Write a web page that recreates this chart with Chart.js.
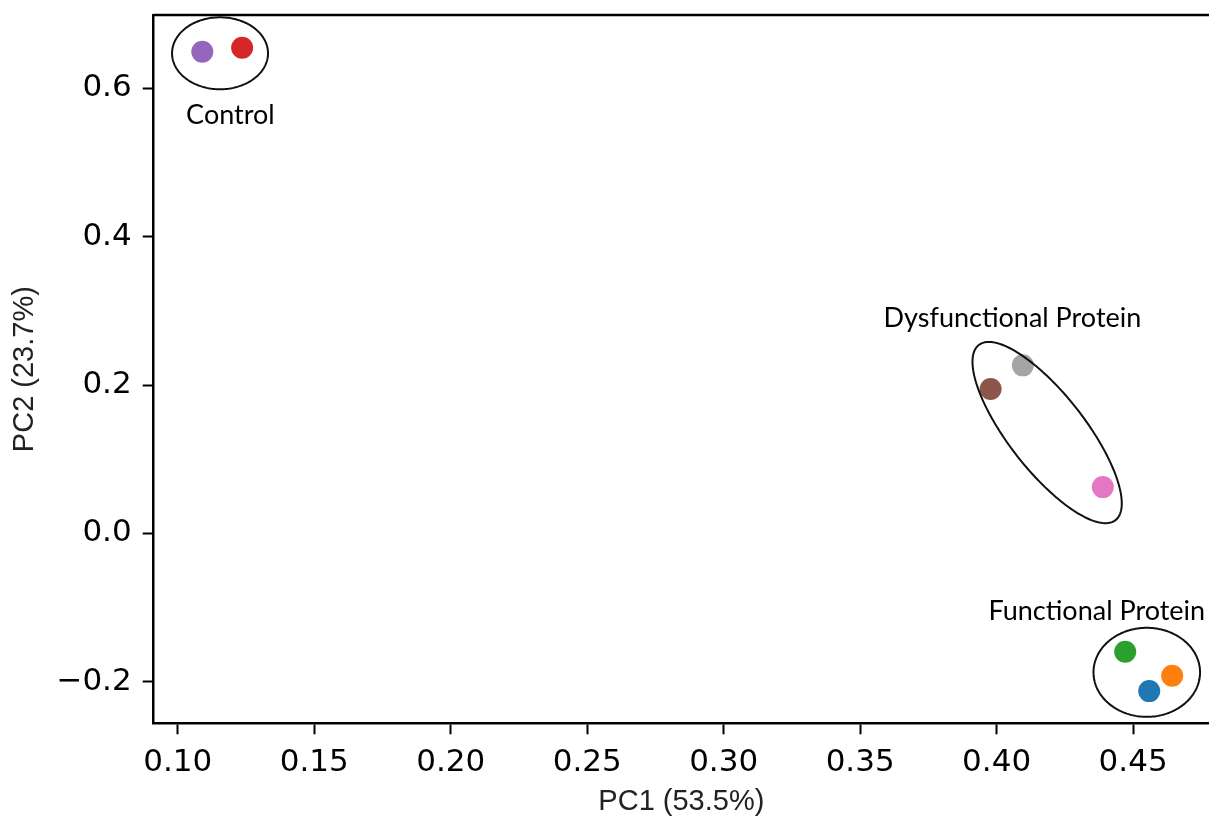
<!DOCTYPE html>
<html>
<head>
<meta charset="utf-8">
<script src="https://cdn.jsdelivr.net/npm/chart.js@4.4.0/dist/chart.umd.min.js"></script>
<style>
  html, body { margin: 0; padding: 0; background: #fff; }
  #wrap { width: 1209px; height: 816px; }
</style>
</head>
<body>
<div id="wrap"><canvas id="pcaChart"></canvas></div>
<script>
// samples (tab10 colours, one per sample)
const sampleColors = ['#1f77b4', '#ff7f0e', '#2ca02c', '#d62728', '#9467bd', '#8c564b', '#e377c2', '#a5a5a5'];
const pc1Values = [0.4559, 0.4643, 0.4471, 0.1236, 0.1090, 0.3978, 0.4389, 0.4096];
const pc2Values = [-0.2126, -0.1920, -0.1596, 0.6547, 0.6493, 0.1946, 0.0624, 0.2265];

const xTickValues = [0.10, 0.15, 0.20, 0.25, 0.30, 0.35, 0.40, 0.45];
const yTickValues = [-0.2, 0.0, 0.2, 0.4, 0.6];

const groupNames = ['Control', 'Dysfunctional Protein', 'Functional Protein'];
const groupLabelAt = [[0.1193, 0.564], [0.4058, 0.2903], [0.4367, -0.1048]];
// ellipse = centre + two conjugate half-axes, all in data units
const groupOutlines = [
  { cx: 0.1155, cy: 0.6472, ux: 0.01758, uy: 0, vx: 0, vy: 0.0485 },
  { cx: 0.4185, cy: 0.1359, ux: 0.02505, uy: -0.118, vx: -0.01097, vy: -0.0316 },
  { cx: 0.4550, cy: -0.1873, ux: 0.01952, uy: 0, vx: 0, vy: 0.060 }
];

const points = pc1Values.map((x, i) => ({ x: x, y: pc2Values[i] }));

const tickFont = { family: 'DejaVu Sans', size: 31 };

const groupMarks = {
  id: 'groupMarks',
  afterDatasetsDraw(chart) {
    const { ctx, chartArea, scales: { x, y } } = chart;
    ctx.save();
    // top spine (right one is cut off in the original)
    ctx.strokeStyle = '#000';
    ctx.lineWidth = 2.5;
    ctx.beginPath();
    ctx.moveTo(chartArea.left, chartArea.top);
    ctx.lineTo(chartArea.right, chartArea.top);
    ctx.stroke();

    ctx.lineWidth = 2;
    ctx.strokeStyle = '#111';
    groupOutlines.forEach(e => {
      ctx.beginPath();
      for (let k = 0; k <= 180; k++) {
        const t = k / 180 * Math.PI * 2;
        const px = x.getPixelForValue(e.cx + e.ux * Math.cos(t) + e.vx * Math.sin(t));
        const py = y.getPixelForValue(e.cy + e.uy * Math.cos(t) + e.vy * Math.sin(t));
        if (k === 0) ctx.moveTo(px, py); else ctx.lineTo(px, py);
      }
      ctx.closePath();
      ctx.stroke();
    });

    ctx.fillStyle = '#000';
    ctx.font = '27px Lato';
    ctx.textAlign = 'center';
    ctx.textBaseline = 'middle';
    groupNames.forEach((name, i) => {
      ctx.fillText(name, x.getPixelForValue(groupLabelAt[i][0]), y.getPixelForValue(groupLabelAt[i][1]));
    });
    ctx.restore();
  }
};

const ctx = document.getElementById('pcaChart').getContext('2d');
const pcaChart = new Chart(ctx, {
  type: 'scatter',
  data: {
    datasets: [{
      data: points,
      backgroundColor: sampleColors,
      pointBackgroundColor: sampleColors,
      pointRadius: 11,
      pointHoverRadius: 11,
      pointBorderWidth: 0,
      clip: false
    }]
  },
  options: {
    responsive: true,
    maintainAspectRatio: false,
    animation: false,
    layout: { autoPadding: false, padding: { top: 15, right: 0, left: 0, bottom: 0 } },
    plugins: { legend: { display: false }, tooltip: { enabled: false } },
    scales: {
      x: {
        type: 'linear',
        min: 0.0912,
        max: 0.4778,
        afterBuildTicks: s => { s.ticks = xTickValues.map(v => ({ value: v })); },
        afterFit: s => { s.height = 92.7; s.paddingLeft = 0; s.paddingRight = 0; },
        ticks: {
          color: '#000',
          font: tickFont,
          padding: 10,
          maxRotation: 0,
          callback: v => v.toFixed(2)
        },
        grid: { drawOnChartArea: false, drawTicks: true, tickLength: 11, tickColor: '#000', tickWidth: 2 },
        border: { display: true, color: '#000', width: 2.5 },
        title: {
          display: true, text: 'PC1 (53.5%)', color: '#222',
          font: { family: 'Liberation Sans', size: 29, lineHeight: 0.95 },
          padding: { top: 0, bottom: 0 }
        }
      },
      y: {
        type: 'linear',
        min: -0.256,
        max: 0.6988,
        afterBuildTicks: s => { s.ticks = yTickValues.map(v => ({ value: v })); },
        afterFit: s => { s.width = 153.7; s.paddingTop = 0; s.paddingBottom = 0; },
        ticks: {
          color: '#000',
          font: tickFont,
          padding: 11,
          callback: v => (v < 0 ? '\u2212' + Math.abs(v).toFixed(1) : v.toFixed(1))
        },
        grid: { drawOnChartArea: false, drawTicks: true, tickLength: 11, tickColor: '#000', tickWidth: 2 },
        border: { display: true, color: '#000', width: 2.5 },
        title: {
          display: true, text: 'PC2 (23.7%)', color: '#222',
          font: { family: 'Liberation Sans', size: 29 },
          padding: { top: 8, bottom: 0 }
        }
      }
    }
  },
  plugins: [groupMarks]
});
</script>
</body>
</html>
